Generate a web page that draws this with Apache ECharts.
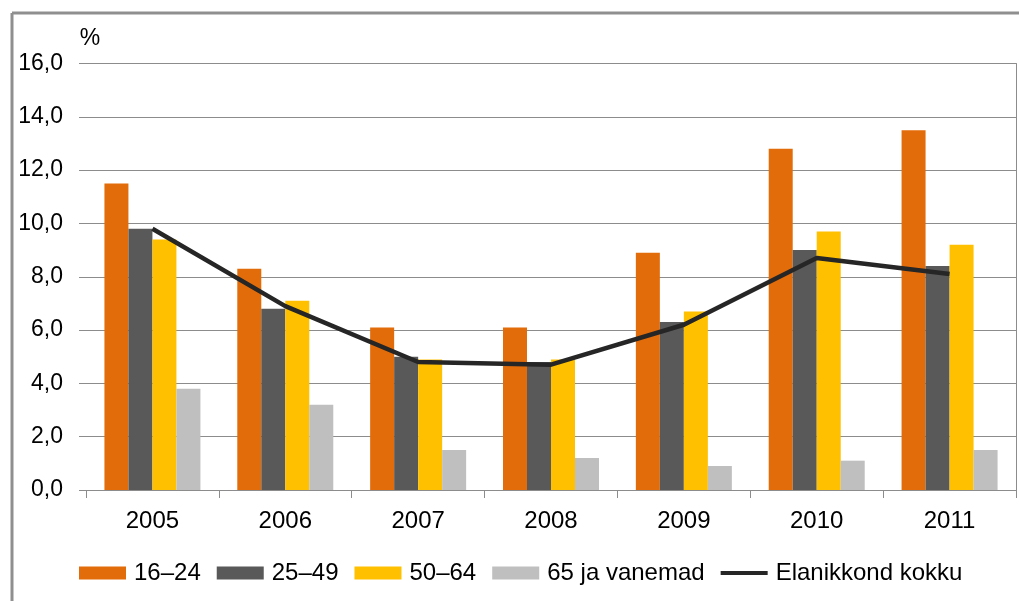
<!DOCTYPE html>
<html>
<head>
<meta charset="utf-8">
<script src="https://cdn.jsdelivr.net/npm/echarts@6/dist/echarts.min.js"></script>
<style>
html,body{margin:0;padding:0;background:#fff;}
#c{width:1019px;height:601px;}
</style>
</head>
<body>
<div id="c"></div>
<script>
const years = ['2005','2006','2007','2008','2009','2010','2011'];
const age16_24 = [11.5, 8.3, 6.1, 6.1, 8.9, 12.8, 13.5];
const age25_49 = [9.8, 6.8, 5.0, 4.8, 6.3, 9.0, 8.4];
const age50_64 = [9.4, 7.1, 4.9, 4.9, 6.7, 9.7, 9.2];
const age65plus = [3.8, 3.2, 1.5, 1.2, 0.9, 1.1, 1.5];
const total = [9.8, 6.9, 4.8, 4.7, 6.2, 8.7, 8.1];
const seriesNames = ['16–24', '25–49', '50–64', '65 ja vanemad', 'Elanikkond kokku'];
const yTicks = [0, 2, 4, 6, 8, 10, 12, 14, 16];

const colors = ['#E36C0A', '#595959', '#FFC000', '#BFBFBF', '#262626'];
const font = 'Liberation Sans, Arial, sans-serif';

const chart = echarts.init(document.getElementById('c'), null, {renderer: 'canvas'});

function bar(name, data, color) {
  return {
    name: name, type: 'bar', data: data, barWidth: 24, barGap: '0%',
    itemStyle: {color: color}, z: 2, animation: false
  };
}

chart.setOption({
  animation: false,
  backgroundColor: '#ffffff',
  grid: {left: 86, right: 3, top: 63.5, bottom: 111, containLabel: false},
  legend: {
    left: 79, top: 561, padding: 0,
    itemWidth: 47, itemHeight: 13, itemGap: 16,
    textStyle: {fontFamily: font, fontSize: 24, color: '#000', padding: [0, 0, 0, 3]},
    data: [
      {name: seriesNames[0], icon: 'rect'},
      {name: seriesNames[1], icon: 'rect'},
      {name: seriesNames[2], icon: 'rect'},
      {name: seriesNames[3], icon: 'rect'},
      {name: seriesNames[4], icon: 'path://M0,0H50V4.5H0Z'}
    ]
  },
  xAxis: {
    type: 'category', data: years, boundaryGap: true,
    axisLine: {show: true, lineStyle: {color: '#8c8c8c', width: 1}},
    axisTick: {show: true, length: 8, lineStyle: {color: '#8c8c8c'}},
    axisLabel: {fontFamily: font, fontSize: 24, color: '#000', margin: 19},
    splitLine: {show: false}
  },
  yAxis: [{
    type: 'value', min: yTicks[0], max: yTicks[yTicks.length - 1], interval: 2,
    name: '%', nameLocation: 'end', nameGap: 13,
    nameTextStyle: {fontFamily: font, fontSize: 23, color: '#000', align: 'center', padding: [0, 0, 0, 8]},
    axisLine: {show: false},
    axisTick: {show: true, length: 7, lineStyle: {color: '#8c8c8c'}},
    axisLabel: {
      fontFamily: font, fontSize: 23, color: '#000', margin: 23,
      formatter: v => v.toFixed(1).replace('.', ',')
    },
    splitLine: {show: true, lineStyle: {color: '#8c8c8c', width: 1}}
  }, {
    type: 'value', position: 'right', min: 0, max: 16, interval: 2,
    axisLine: {show: true, lineStyle: {color: '#8c8c8c', width: 1}},
    axisTick: {show: false}, axisLabel: {show: false}, splitLine: {show: false}
  }],
  series: [
    bar(seriesNames[0], age16_24, colors[0]),
    bar(seriesNames[1], age25_49, colors[1]),
    bar(seriesNames[2], age50_64, colors[2]),
    bar(seriesNames[3], age65plus, colors[3]),
    {
      name: seriesNames[4], type: 'line', data: total, symbol: 'none',
      lineStyle: {color: colors[4], width: 4.5}, itemStyle: {color: colors[4]},
      z: 5, animation: false
    }
  ],
  graphic: [
    {type: 'line', shape: {x1: 12, y1: 13, x2: 12, y2: 601}, style: {stroke: '#8f8f8f', lineWidth: 3}},
    {type: 'line', shape: {x1: 12, y1: 13, x2: 1019, y2: 13}, style: {stroke: '#8f8f8f', lineWidth: 3}}
  ]
});
</script>
</body>
</html>
